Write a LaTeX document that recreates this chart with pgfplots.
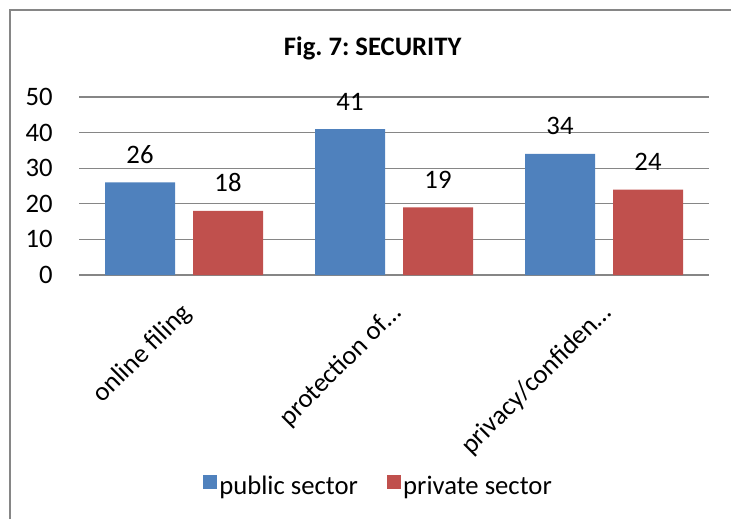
\documentclass[border=0pt]{standalone}
\usepackage{pgfplots}
\pgfplotsset{compat=1.18}
\usepackage{fontspec}
\setmainfont{Carlito}
\frenchspacing
\definecolor{bblue}{RGB}{79,129,189}
\definecolor{bred}{RGB}{192,80,77}
\definecolor{gridc}{RGB}{134,134,134}
\newcommand{\cfont}{\fontsize{20}{24}\selectfont}
\begin{document}
\begin{tikzpicture}
\useasboundingbox (0,0) rectangle (548.25pt,389.25pt);
\draw[gridc, line width=1pt] (7.5pt,0) -- (7.5pt,381.75pt) -- (548.25pt,381.75pt);
\node[font=\cfont\bfseries] at (279.5pt,353.25pt) {Fig. 7: SECURITY};
\begin{axis}[
  at={(59.25pt,183pt)}, anchor=south west,
  scale only axis, width=472.5pt, height=133.5pt,
  xmin=-0.5, xmax=2.5, ymin=0, ymax=50,
  ytick={0,10,20,30,40,50},
  xtick={0,1,2},
  xticklabels={online filing, protection of…, privacy/confiden…},
  ymajorgrids, grid style={gridc, line width=1pt},
  axis line style={draw=none},
  major tick length=0pt,
  ybar=13.5pt, bar width=52.5pt,
  nodes near coords,
  nodes near coords style={font=\cfont, inner sep=0pt, anchor=south, yshift=14pt},
  tick label style={font=\cfont},
  yticklabel style={anchor=east, inner sep=0pt, xshift=-19.5pt},
  xticklabel style={xshift=2.6pt, yshift=-25.5pt, rotate=45, anchor=east, inner sep=0pt},
  /pgf/number format/assume math mode=true,
  legend style={at={(0.476,-1.185)}, anchor=center, draw=none, font=\cfont,
    legend columns=2, /tikz/every even column/.append style={column sep=20pt}},
  legend image code/.code={\draw[#1,draw=none] (0pt,-2pt) rectangle (10pt,8pt);},
]
\addplot[fill=bblue, draw=none] coordinates {(0,26) (1,41) (2,34)};
\addplot[fill=bred, draw=none] coordinates {(0,18) (1,19) (2,24)};
\legend{public sector, private sector}
\end{axis}
\end{tikzpicture}
\end{document}
